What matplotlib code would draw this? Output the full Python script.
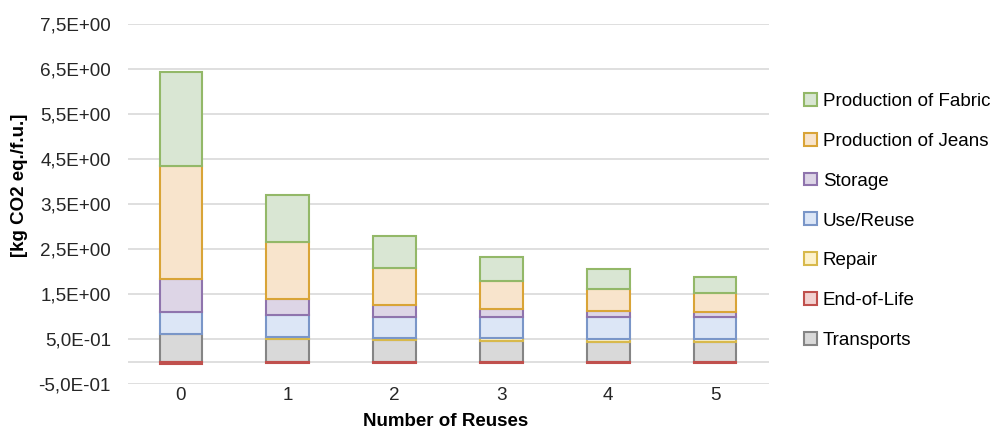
import numpy as np
import matplotlib
matplotlib.use('Agg')
import matplotlib.pyplot as plt

plt.rcParams['font.family'] = ['Liberation Sans', 'DejaVu Sans']

reuses = ['0', '1', '2', '3', '4', '5']
transports = [0.61, 0.50, 0.47, 0.45, 0.44, 0.43]
end_of_life = [-0.06, -0.04, -0.03, -0.03, -0.03, -0.03]
repair = [0.00, 0.05, 0.05, 0.07, 0.07, 0.06]
use_reuse = [0.49, 0.48, 0.48, 0.47, 0.47, 0.49]
storage = [0.73, 0.37, 0.25, 0.18, 0.15, 0.13]
prod_jeans = [2.51, 1.25, 0.82, 0.62, 0.49, 0.41]
prod_fabric = [2.09, 1.05, 0.71, 0.53, 0.43, 0.35]

y_ticks = [-0.5, 0.5, 1.5, 2.5, 3.5, 4.5, 5.5, 6.5, 7.5]

# (label, values, face, edge) in stacking order, bottom first
series = [
    ('Transports', transports, '#d9d9d9', '#858585'),
    ('End-of-Life', end_of_life, '#f2d1d0', '#c0504d'),
    ('Repair', repair, '#fdf2cc', '#d8b94c'),
    ('Use/Reuse', use_reuse, '#dce6f6', '#7a96c8'),
    ('Storage', storage, '#ddd5e6', '#8f74ad'),
    ('Production of Jeans', prod_jeans, '#f8e4cc', '#d9a437'),
    ('Production of Fabric', prod_fabric, '#d9e6d3', '#93b868'),
]

fig = plt.figure(figsize=(9.92, 4.3), dpi=100)
ax = fig.add_axes([127.5 / 992, 46 / 430, 641 / 992, 360 / 430])

x = np.arange(len(reuses))
pos_bottom = np.zeros(len(reuses))
neg_bottom = np.zeros(len(reuses))
for label, vals, face, edge in series:
    v = np.array(vals, dtype=float)
    bottom = np.where(v >= 0, pos_bottom, neg_bottom)
    ax.bar(x, v, bottom=bottom, width=0.4, color=face, edgecolor=edge,
           linewidth=1.5, label=label, zorder=3)
    pos_bottom = pos_bottom + np.where(v >= 0, v, 0)
    neg_bottom = neg_bottom + np.where(v < 0, v, 0)

ax.set_xlim(-0.5, len(reuses) - 0.5)
ax.set_ylim(-0.5, 7.5)
ax.set_yticks(y_ticks)
ax.set_yticklabels([f"{t:.1E}".replace('.', ',') for t in y_ticks])
ax.set_xticks(x)
ax.set_xticklabels(reuses)
ax.tick_params(axis='y', length=0, pad=12, labelsize=13.6, colors='#262626')
ax.tick_params(axis='x', length=0, pad=2, labelsize=13.6, colors='#262626')
ax.grid(axis='y', color='#d9d9d9', linewidth=1.2, zorder=0)
ax.axhline(0, color='#d9d9d9', linewidth=1.2, zorder=1)
for s in ax.spines.values():
    s.set_visible(False)

fig.text(446 / 992, 1 - 421 / 430, 'Number of Reuses', fontsize=13.5,
         fontweight='bold', ha='center', va='center')
fig.text(20 / 992, 1 - 185 / 430, '[kg CO2 eq./f.u.]', rotation=90,
         fontsize=13.5, fontweight='bold', ha='center', va='center')

handles, labels = ax.get_legend_handles_labels()
fig.legend(handles[::-1], labels[::-1], loc='center left',
           bbox_to_anchor=(804 / 992, 1 - 221 / 430), frameon=False,
           fontsize=13.5, handlelength=0.68, handleheight=0.68,
           handletextpad=0.32, labelspacing=1.22, borderpad=0, borderaxespad=0)

fig.savefig('out.png', dpi=100)
plt.close(fig)
